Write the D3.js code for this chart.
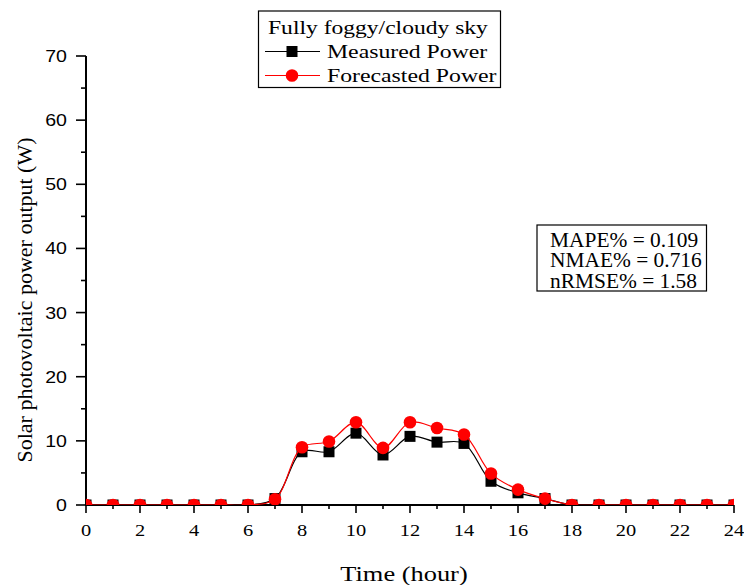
<!DOCTYPE html>
<html>
<head>
<meta charset="utf-8">
<script src="https://cdn.jsdelivr.net/npm/d3@7"></script>
<style>
  body { margin: 0; background: #fff; }
  svg { display: block; }
</style>
</head>
<body>
<svg id="chart" width="744" height="585"></svg>
<script>
// Hourly solar PV output for a fully foggy / cloudy day
const hours = d3.range(0, 25);
const measuredPower = [0, 0, 0, 0, 0, 0, 0, 1.0, 8.3, 8.3, 11.2, 7.8, 10.7, 9.8, 9.6, 3.7, 1.9, 1.0, 0, 0, 0, 0, 0, 0, 0];
const forecastPower = [0, 0, 0, 0, 0, 0, 0, 0.9, 9.0, 9.9, 12.9, 8.9, 12.9, 12.0, 11.0, 4.9, 2.4, 1.0, 0, 0, 0, 0, 0, 0, 0];
const xTickLabels = [0, 2, 4, 6, 8, 10, 12, 14, 16, 18, 20, 22, 24];
const yTickLabels = [0, 10, 20, 30, 40, 50, 60, 70];
const legendTitle = "Fully foggy/cloudy sky";
const seriesNames = ["Measured Power", "Forecasted Power"];
const statsLines = ["MAPE% = 0.109", "NMAE% = 0.716", "nRMSE% = 1.58"];

const serif = "'Liberation Serif', 'Times New Roman', serif";
const sans = "'Liberation Sans', Arial, sans-serif";

const svg = d3.select("#chart");
const plotLeft = 86, plotRight = 734, plotTop = 56, plotBottom = 505;

const x = d3.scaleLinear().domain([0, 24]).range([plotLeft, plotRight]);
const y = d3.scaleLinear().domain([0, 70]).range([plotBottom, plotTop]);

// Widen horizontal text a little, as the original export renders it
function widen(sel, factor) {
  sel.each(function () {
    const w = this.getComputedTextLength();
    d3.select(this).attr("textLength", w * factor).attr("lengthAdjust", "spacingAndGlyphs");
  });
}

svg.append("defs").append("clipPath").attr("id", "plotClip")
  .append("rect").attr("x", plotLeft).attr("y", plotTop - 10)
  .attr("width", plotRight - plotLeft).attr("height", plotBottom - plotTop + 10);

// X axis: minor ticks every hour, labelled major ticks every two hours
const xAxisG = svg.append("g").attr("transform", `translate(0,${plotBottom})`);
xAxisG.append("line").attr("x1", plotLeft).attr("x2", plotRight)
  .attr("stroke", "#000").attr("stroke-width", 2);
xAxisG.selectAll("line.tick").data(hours).enter().append("line")
  .attr("class", "tick")
  .attr("x1", d => x(d)).attr("x2", d => x(d))
  .attr("y1", 0).attr("y2", d => d % 2 === 0 ? 8 : 4)
  .attr("stroke", "#000").attr("stroke-width", 1.6);
xAxisG.selectAll("text").data(xTickLabels).enter().append("text")
  .attr("x", d => x(d)).attr("y", 30.5)
  .attr("text-anchor", "middle")
  .attr("font-family", serif).attr("font-size", 17)
  .text(d => d)
  .call(widen, 1.2);

// Y axis: major ticks every 10, minor every 5
const yAxisG = svg.append("g");
yAxisG.append("line").attr("x1", plotLeft).attr("x2", plotLeft)
  .attr("y1", y(70)).attr("y2", plotBottom + 1)
  .attr("stroke", "#000").attr("stroke-width", 2);
yAxisG.selectAll("line.tick").data(d3.range(0, 71, 5)).enter().append("line")
  .attr("class", "tick")
  .attr("x1", d => plotLeft - (d % 10 === 0 ? 10 : 5)).attr("x2", plotLeft)
  .attr("y1", d => y(d)).attr("y2", d => y(d))
  .attr("stroke", "#000").attr("stroke-width", 1.6);
yAxisG.selectAll("text").data(yTickLabels).enter().append("text")
  .attr("x", plotLeft - 19).attr("y", d => y(d) + 6)
  .attr("text-anchor", "end")
  .attr("font-family", sans).attr("font-size", 17)
  .text(d => d)
  .call(widen, 1.15);

// Axis titles
svg.append("text")
  .attr("x", 404).attr("y", 581)
  .attr("text-anchor", "middle")
  .attr("font-family", serif).attr("font-size", 20)
  .text("Time (hour)")
  .call(widen, 1.32);
svg.append("text")
  .attr("transform", `translate(32,300) rotate(-90)`)
  .attr("text-anchor", "middle")
  .attr("font-family", serif).attr("font-size", 22)
  .text("Solar photovoltaic power output (W)");

// Series
const line = d3.line().x((d, i) => x(hours[i])).y(d => y(d)).curve(d3.curveCatmullRom);
const plot = svg.append("g").attr("clip-path", "url(#plotClip)");

plot.append("path").datum(measuredPower)
  .attr("d", line).attr("fill", "none").attr("stroke", "#000").attr("stroke-width", 1.2);
plot.selectAll("rect.m").data(measuredPower).enter().append("rect")
  .attr("class", "m")
  .attr("x", (d, i) => x(hours[i]) - 5.5).attr("y", d => y(d) - 5.5)
  .attr("width", 11).attr("height", 11).attr("fill", "#000");

plot.append("path").datum(forecastPower)
  .attr("d", line).attr("fill", "none").attr("stroke", "#ff0000").attr("stroke-width", 1.2);
plot.selectAll("circle.f").data(forecastPower).enter().append("circle")
  .attr("class", "f")
  .attr("cx", (d, i) => x(hours[i])).attr("cy", d => y(d))
  .attr("r", 6.3).attr("fill", "#ff0000");

// Legend
const lg = svg.append("g");
lg.append("rect").attr("x", 258.5).attr("y", 11).attr("width", 242).attr("height", 76.5)
  .attr("fill", "#fff").attr("stroke", "#000").attr("stroke-width", 1.2);
lg.append("text").attr("x", 268).attr("y", 33.5)
  .attr("font-family", serif).attr("font-size", 19).text(legendTitle)
  .call(widen, 1.24);
const entryY = [51.5, 75.5];
lg.append("line").attr("x1", 265).attr("x2", 320).attr("y1", entryY[0]).attr("y2", entryY[0])
  .attr("stroke", "#000").attr("stroke-width", 1.2);
lg.append("rect").attr("x", 292 - 5.5).attr("y", entryY[0] - 5.5)
  .attr("width", 11).attr("height", 11).attr("fill", "#000");
lg.append("line").attr("x1", 265).attr("x2", 320).attr("y1", entryY[1]).attr("y2", entryY[1])
  .attr("stroke", "#ff0000").attr("stroke-width", 1.2);
lg.append("circle").attr("cx", 292).attr("cy", entryY[1]).attr("r", 6.3).attr("fill", "#ff0000");
lg.selectAll("text.entry").data(seriesNames).enter().append("text")
  .attr("class", "entry")
  .attr("x", 327).attr("y", (d, i) => entryY[i] + 6)
  .attr("font-family", serif).attr("font-size", 19).text(d => d)
  .call(widen, 1.25);

// Error metrics box
const sb = svg.append("g");
sb.append("rect").attr("x", 537).attr("y", 225).attr("width", 169.5).attr("height", 66)
  .attr("fill", "#fff").attr("stroke", "#000").attr("stroke-width", 1.2);
sb.selectAll("text").data(statsLines).enter().append("text")
  .attr("x", 550).attr("y", (d, i) => 246.5 + i * 20.7)
  .attr("font-family", serif).attr("font-size", 20).text(d => d)
  .call(widen, 1.07);
</script>
</body>
</html>
